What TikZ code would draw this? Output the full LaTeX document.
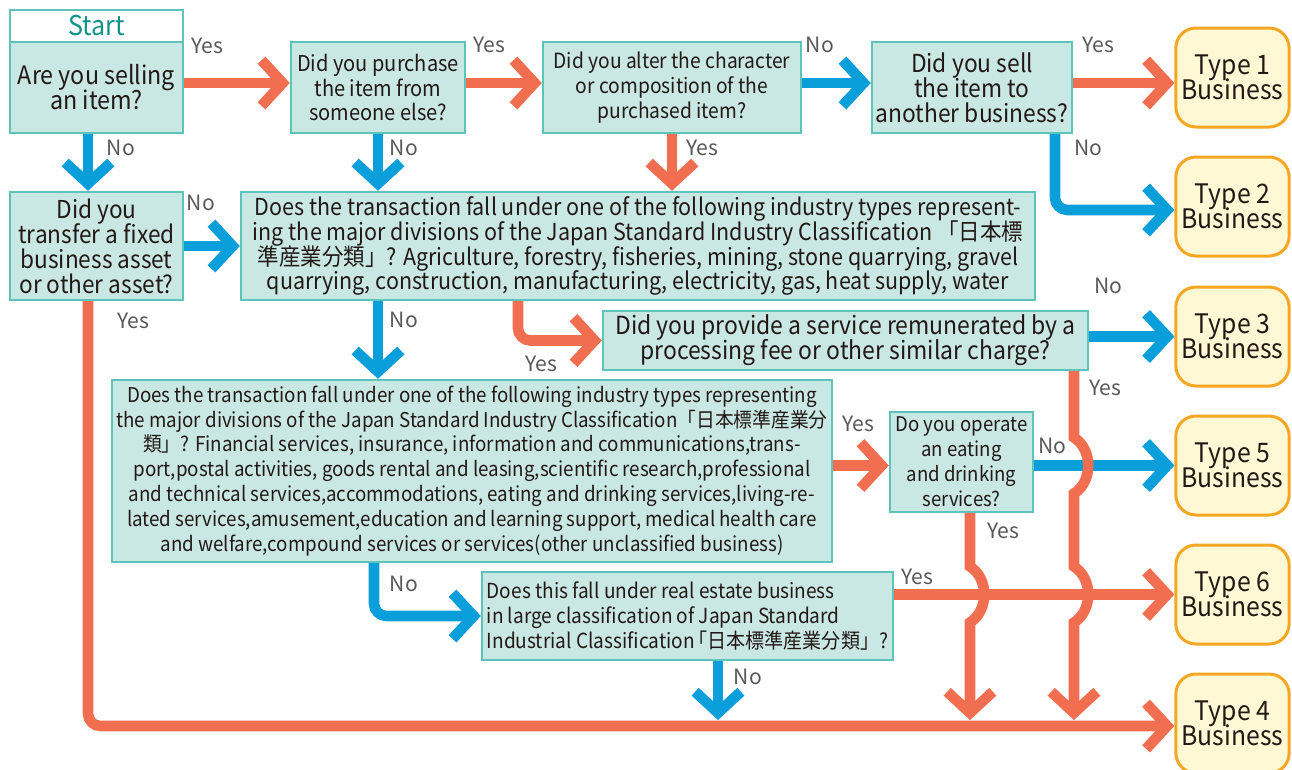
\documentclass[tikz,border=0pt]{standalone}
\usepackage{fontspec}
\setmainfont{Noto Sans CJK JP}
\newfontfamily\condfont{Noto Sans CJK JP}[FakeStretch=0.92]
\usetikzlibrary{arrows.meta, positioning, calc}
\definecolor{yescol}{HTML}{F26E50}
\definecolor{nocol}{HTML}{0A9EDB}
\definecolor{qfill}{HTML}{C9E8E4}
\definecolor{qline}{HTML}{5CC4BB}
\definecolor{tfill}{HTML}{FFF8D4}
\definecolor{tline}{HTML}{F5A623}
\definecolor{lblcol}{HTML}{595757}
\definecolor{startcol}{HTML}{119488}
\definecolor{txtcol}{HTML}{231815}
\newcommand{\boxfont}[1]{\condfont\fontsize{#1}{14.2}\selectfont\lineskiplimit=-20pt\lineskip=0pt}
\tikzset{
	qbox/.style={draw=qline, fill=qfill, line width=1.4pt, text=txtcol, align=center, inner sep=0pt},
	tbox/.style={draw=tline, fill=tfill, line width=1.7pt, rounded corners=0.4cm, text=txtcol, align=center, font=\boxfont{15.3}},
	boxsize/.style 2 args={minimum width=#1*0.02cm, minimum height=#2*0.02cm},
	yesarr/.style={draw=yescol, line width=6pt, -{Straight Barb[length=12pt,width=26pt]}},
	noarr/.style={yesarr, draw=nocol},
	lbl/.style={text=lblcol, font=\fontsize{12}{14}\selectfont, inner sep=0pt}
}

\begin{document}
\begin{tikzpicture}[x=0.02cm, y=-0.02cm]
	\useasboundingbox (0,0) rectangle (1292,769);

	% questions
	\node[qbox, boxsize={173}{32}, fill=white, text=startcol, font=\boxfont{15.5}] (start) at (96.5,26) {Start};
	\node[qbox, boxsize={173}{91}, font=\boxfont{14.4}] (sell) at (96.5,87.5) {Are you selling\\an item?};
	\node[qbox, boxsize={174}{91}, font=\boxfont{12.4}] (purchase) at (378,87.5) {Did you purchase\\the item from\\someone else?};
	\node[qbox, boxsize={258}{91}, font=\boxfont{11.9}] (alter) at (672,87.5) {Did you alter the character\\or composition of the\\purchased item?};
	\node[qbox, boxsize={200}{91}, font=\boxfont{14.1}] (sellbiz) at (972,87.5) {Did you sell\\the item to\\another business?};
	\node[qbox, boxsize={173}{108}, font=\boxfont{14}] (transfer) at (96.5,246) {Did you\\transfer a fixed\\business asset\\or other asset?};
	\node[qbox, boxsize={794}{108}, font=\boxfont{13.3}] (indA) at (638,246) {Does the transaction fall under one of the following industry types represent-\\ing the major divisions of the Japan Standard Industry Classification 「日本標\\準産業分類」? Agriculture, forestry, fisheries, mining, stone quarrying, gravel\\quarrying, construction, manufacturing, electricity, gas, heat supply, water};
	\node[qbox, boxsize={485}{59}, font=\boxfont{14.2}] (service) at (845.5,340.5) {Did you provide a service remunerated by a\\processing fee or other similar charge?};
	\node[qbox, boxsize={720}{182}, font=\boxfont{11.6}] (indB) at (472,471) {Does the transaction fall under one of the following industry types representing\\the major divisions of the Japan Standard Industry Classification「日本標準産業分\\類」? Financial services, insurance, information and communications,trans-\\port,postal activities, goods rental and leasing,scientific research,professional\\and technical services,accommodations, eating and drinking services,living-re-\\lated services,amusement,education and learning support, medical health care\\and welfare,compound services or services(other unclassified business)};
	\node[qbox, boxsize={143}{100}, font=\boxfont{11.5}] (eating) at (961.5,462) {Do you operate\\an eating\\and drinking\\services?};
	\node[qbox, boxsize={411}{88}, font=\boxfont{11.8}, align=left] (realty) at (687.5,616) {Does this fall under real estate business\\in large classification of Japan Standard\\Industrial Classification\kern-0.3em「日本標準産業分類」?};

	% results
	\foreach \n/\y in {1/77.5, 2/206.5, 3/336.5, 5/465.5, 6/594.5, 4/723.5}
		\node[tbox, boxsize={113}{99}] (type\n) at (1232.5,\y) {Type \n\\Business};

	\coordinate (bendT2) at (1055,210);
	\coordinate (bendSv) at (518,340.5);
	\coordinate (bendRe) at (374,616);
	\coordinate (bendT4) at (88,726);
	\coordinate (endRe) at (718,720);
	\coordinate (endSv) at (1074,720);
	\coordinate (endEa) at (970,720);

	\draw[yesarr] ([yshift=0.09cm]sell.east) -- ([yshift=0.09cm]purchase.west);
	\draw[yesarr] ([yshift=0.09cm]purchase.east) -- ([yshift=0.09cm]alter.west);
	\draw[noarr] ([yshift=0.09cm]alter.east) -- ([yshift=0.09cm]sellbiz.west);
	\draw[yesarr] ([yshift=0.09cm]sellbiz.east) -- ([yshift=0.09cm]sellbiz.east -| type1.west);
	\draw[noarr] ([xshift=-0.17cm]sell.south) -- ([xshift=-0.17cm]transfer.north);
	\draw[noarr] (purchase.south) -- (purchase.south |- indA.north);
	\draw[yesarr] (alter.south) -- (alter.south |- indA.north);
	\draw[noarr, rounded corners=0.25cm] (sellbiz.south -| bendT2) -- (bendT2) -- (bendT2 -| type2.west);
	\draw[noarr] (transfer) -- (indA);
	\draw[noarr] (purchase.south |- indA.south) -- (purchase.south |- indB.north);
	\draw[yesarr, rounded corners=0.25cm] (indA.south -| bendSv) -- (bendSv) -- (service.west);
	\draw[noarr] (service.east |- type3) -- (type3.west);
	\draw[yesarr] (indB.east |- type5) -- (eating.west |- type5);
	\draw[noarr] (eating.east |- type5) -- (type5.west);
	\draw[noarr, rounded corners=0.25cm] (indB.south -| bendRe) -- (bendRe) -- (realty.west);
	\draw[yesarr] (realty.east |- type6) -- (type6.west);
	\draw[yesarr, rounded corners=0.25cm] (transfer.south -| bendT4) -- (bendT4) -- (bendT4 -| type4.west);
	\draw[noarr] (realty.south -| endRe) -- (endRe);

	% hops over the crossing lines
	\draw[yesarr] (service.south -| endSv) -- (1074,437.5) .. controls +(19,12) and +(19,-12) .. (1074,493.5) -- (1074,566.5) .. controls +(19,12) and +(19,-12) .. (1074,622.5) -- (endSv);
	\draw[yesarr] (eating.south -| endEa) -- (970,566.5) .. controls +(19,12) and +(19,-12) .. (970,622.5) -- (endEa);

	% answers
	\node[lbl] (ySell) at (207,46) {Yes};
	\node[lbl] (nSell) at (121,148) {No};
	\node[lbl] (yPurch) at (489,45) {Yes};
	\node[lbl] (nPurch) at (404,148) {No};
	\node[lbl] (nAlter) at (820,45) {No};
	\node[lbl] (yAlter) at (702,148) {Yes};
	\node[lbl] (yBiz) at (1098,45) {Yes};
	\node[lbl] (nBiz) at (1088,148) {No};
	\node[lbl] (nTrans) at (201,203) {No};
	\node[lbl] (yTrans) at (133,321) {Yes};
	\node[lbl] (nIndA) at (404,320) {No};
	\node[lbl] (yIndA) at (541,364) {Yes};
	\node[lbl] (nServ) at (1108,286) {No};
	\node[lbl] (yServ) at (1105,388) {Yes};
	\node[lbl] (yIndB) at (858,424) {Yes};
	\node[lbl] (nEat) at (1052,446) {No};
	\node[lbl] (yEat) at (1003,531) {Yes};
	\node[lbl] (nIndB) at (404,584) {No};
	\node[lbl] (yRe) at (917,577) {Yes};
	\node[lbl] (nRe) at (748,677) {No};
\end{tikzpicture}
\end{document}
